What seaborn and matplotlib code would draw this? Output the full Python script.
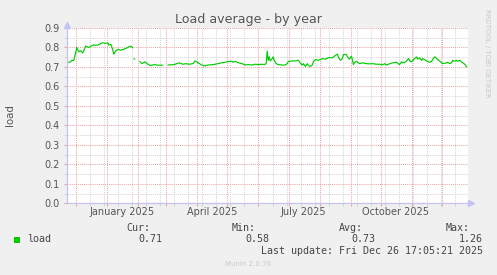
import numpy as np
import pandas as pd
import matplotlib
matplotlib.use("Agg")
import matplotlib.pyplot as plt
import matplotlib.dates as mdates
from matplotlib.ticker import MultipleLocator, FixedLocator, FormatStrFormatter, NullFormatter
from matplotlib.patches import Rectangle
import seaborn as sns

# ---------------- data ----------------
start = pd.Timestamp("2024-11-21 17:05:21")
end = pd.Timestamp("2025-12-26 17:05:21")

seg1_days = [0, 4, 5, 7, 8, 10, 12, 14, 16, 17, 19, 22, 26, 31, 34, 36, 39, 41, 42, 44,
             46, 47, 49, 51, 54, 59, 62, 64, 66]
seg1_load = [0.722, 0.726, 0.734, 0.734, 0.752, 0.800, 0.778, 0.783, 0.772, 0.783, 0.807,
             0.800, 0.812, 0.812, 0.821, 0.824, 0.821, 0.824, 0.812, 0.817, 0.786, 0.766,
             0.783, 0.790, 0.786, 0.795, 0.803, 0.807, 0.798]

seg2_days = [67, 68]
seg2_load = [0.742, 0.740]

seg3_days = [73, 75, 78, 81, 84, 87, 91, 96]
seg3_load = [0.728, 0.717, 0.726, 0.714, 0.707, 0.712, 0.709, 0.709]

seg4_days = [101, 107, 112, 116, 119, 122, 126, 128, 131, 134, 137, 141, 146, 151, 155, 158,
             161, 165, 166, 168, 171, 175, 178, 181, 185, 188, 191, 195, 197, 199, 200, 201,
             202, 203, 205, 206, 207, 209, 211, 215, 218, 220, 221, 225, 228, 231, 233, 235,
             236, 238, 240, 241, 243, 245, 246, 248, 251, 253, 255, 258, 261, 265, 268, 270,
             271, 273, 275, 276, 279, 280, 282, 284, 285, 286, 287, 289, 290, 292, 295, 299,
             302, 305, 309, 312, 315, 317, 319, 322, 325, 329, 332, 334, 335, 337, 339, 341,
             343, 345, 346, 349, 350, 352, 354, 355, 357, 359, 362, 364, 365, 367, 369, 370,
             373, 375, 379, 380, 382, 384, 385, 387, 389, 390, 392, 394, 395, 397, 399]
seg4_load = [0.710, 0.712, 0.721, 0.714, 0.717, 0.714, 0.717, 0.731, 0.722, 0.712, 0.705,
             0.710, 0.712, 0.717, 0.722, 0.724, 0.728, 0.729, 0.724, 0.729, 0.722, 0.717,
             0.710, 0.712, 0.710, 0.714, 0.712, 0.714, 0.712, 0.717, 0.781, 0.734, 0.752,
             0.731, 0.743, 0.752, 0.734, 0.717, 0.712, 0.710, 0.710, 0.717, 0.728, 0.731,
             0.731, 0.734, 0.721, 0.709, 0.717, 0.703, 0.717, 0.707, 0.703, 0.710, 0.726,
             0.738, 0.734, 0.738, 0.743, 0.740, 0.748, 0.747, 0.759, 0.766, 0.752, 0.734,
             0.743, 0.764, 0.764, 0.752, 0.740, 0.755, 0.738, 0.712, 0.722, 0.729, 0.726,
             0.717, 0.721, 0.717, 0.716, 0.717, 0.714, 0.714, 0.710, 0.717, 0.710, 0.716,
             0.721, 0.724, 0.712, 0.726, 0.722, 0.722, 0.731, 0.743, 0.726, 0.731, 0.738,
             0.752, 0.740, 0.747, 0.734, 0.743, 0.738, 0.731, 0.724, 0.729, 0.738, 0.752,
             0.743, 0.738, 0.726, 0.717, 0.721, 0.724, 0.717, 0.722, 0.734, 0.729, 0.734,
             0.729, 0.734, 0.726, 0.722, 0.714, 0.700]

month_labels = ["January 2025", "April 2025", "July 2025", "October 2025"]
month_label_dates = ["2025-01-16", "2025-04-16", "2025-07-16", "2025-10-16"]

y_ticks = [0.0, 0.1, 0.2, 0.3, 0.4, 0.5, 0.6, 0.7, 0.8, 0.9]

legend_name = "load"
stat_names = ["Cur:", "Min:", "Avg:", "Max:"]
stat_values = ["0.71", "0.58", "0.73", "1.26"]
last_update = "Last update: Fri Dec 26 17:05:21 2025"

# ---------------- frame ----------------
frames = []
for i, (d, v) in enumerate([(seg1_days, seg1_load), (seg2_days, seg2_load),
                            (seg3_days, seg3_load), (seg4_days, seg4_load)]):
    frames.append(pd.DataFrame({
        "date": start + pd.to_timedelta(d, unit="D"),
        "load": v,
        "seg": i,
    }))
df = pd.concat(frames, ignore_index=True)

# ---------------- figure ----------------
W, H = 497, 275
sns.set_theme(style="white")
plt.rcParams["font.family"] = ["DejaVu Sans"]
fig = plt.figure(figsize=(W / 100, H / 100), dpi=100, facecolor="#F0F0F0")

L, R, T, B = 66.7, 467.7, 28.0, 203.3
ax = fig.add_axes([L / W, (H - B) / H, (R - L) / W, (B - T) / H])
ax.set_facecolor("white")

sns.lineplot(data=df, x="date", y="load", units="seg", estimator=None,
             color="#00CC00", lw=0.85, ax=ax, legend=False, zorder=3)

ax.set_xlim(start, end)
ax.set_ylim(0, 0.9)
ax.set_xlabel("")
ax.set_ylabel("")

# x grid: months (red) and biweekly (grey)
ax.xaxis.set_major_locator(mdates.MonthLocator())
biweekly = pd.date_range("2024-11-17", "2026-01-10", freq="14D")
ax.xaxis.set_minor_locator(FixedLocator(mdates.date2num(biweekly)))
ax.xaxis.set_major_formatter(NullFormatter())
ax.xaxis.set_minor_formatter(NullFormatter())

ax.yaxis.set_major_locator(FixedLocator(y_ticks))
ax.yaxis.set_minor_locator(MultipleLocator(0.05))
ax.yaxis.set_major_formatter(FormatStrFormatter("%.1f"))

red = "#EBA5A5"
grey = "#D6D6D6"
ax.grid(which="minor", color=grey, ls=(0, (1, 1)), lw=0.75)
ax.grid(which="major", color=red, ls=(0, (1, 1)), lw=0.75)
ax.set_axisbelow(True)

ax.tick_params(axis="x", which="major", length=2.5, width=0.8, color=red, bottom=True)
ax.tick_params(axis="x", which="minor", length=2.5, width=0.8, color=grey, bottom=True)
ax.tick_params(axis="y", which="major", length=2.5, width=0.8, color=red, left=True,
               labelsize=7.0, labelcolor="#555555", pad=2.8)
ax.tick_params(axis="y", which="minor", length=2.5, width=0.8, color=grey, left=True)

for s in ["top", "right"]:
    ax.spines[s].set_visible(False)
axis_col = "#C4C4F4"
for s in ["left", "bottom"]:
    ax.spines[s].set_color(axis_col)
    ax.spines[s].set_linewidth(0.9)
    ax.spines[s].set_zorder(4)

# axis arrows
ax.plot([0, 0], [1.0, 1.02], transform=ax.transAxes, color=axis_col, lw=0.9, clip_on=False)
ax.plot([0], [1.019], marker="^", ms=4.6, color=axis_col, mec=axis_col,
        transform=ax.transAxes, clip_on=False)
ax.plot([1.0087], [0], marker=">", ms=4.6, color=axis_col, mec=axis_col,
        transform=ax.transAxes, clip_on=False)

# month labels
for lab, d in zip(month_labels, month_label_dates):
    ax.annotate(lab, xy=(mdates.date2num(pd.Timestamp(d)), 0),
                xycoords=("data", "axes fraction"), xytext=(0, -6.4),
                textcoords="offset points", ha="center", va="center",
                fontsize=7.0, color="#555555", annotation_clip=False)

# title / labels
def fx(x):
    return x / W


def fy(y):
    return (H - y) / H


fig.text(fx(248.3), fy(19.5), "Load average - by year", ha="center", va="center",
         fontsize=9.1, color="#555555")
fig.text(fx(10), fy(115.5), "load", rotation=90, ha="center", va="center",
         fontsize=7.4, color="#555555")
fig.text(fx(487), fy(53), "RRDTOOL / TOBI OETIKER", rotation=270, ha="center",
         va="center", fontsize=5.0, color="#C8C8C8")
fig.text(fx(248), fy(264.5), "Munin 2.0.76", ha="center", va="center",
         fontsize=5.0, color="#C8C8C8")

# legend
mono = "DejaVu Sans Mono"
tcol = "#444444"
fig.add_artist(Rectangle((fx(14), fy(243)), 6 / W, 6 / H, transform=fig.transFigure,
                         facecolor="#00CC00", edgecolor="none"))
fig.text(fx(26.7), fy(239.3), legend_name, family=mono, fontsize=7.2, color=tcol,
         ha="left", va="center")
name_right = [150, 256, 363.3, 470]
val_right = [162.3, 269.3, 375.7, 482.7]
for n, v, xn, xv in zip(stat_names, stat_values, name_right, val_right):
    fig.text(fx(xn), fy(227.7), n, family=mono, fontsize=7.2, color=tcol,
             ha="right", va="center")
    fig.text(fx(xv), fy(239.3), v, family=mono, fontsize=7.2, color=tcol,
             ha="right", va="center")
fig.text(fx(482.7), fy(251), last_update, family=mono, fontsize=7.2, color=tcol,
         ha="right", va="center")

fig.savefig("out.png", dpi=100, facecolor=fig.get_facecolor())
